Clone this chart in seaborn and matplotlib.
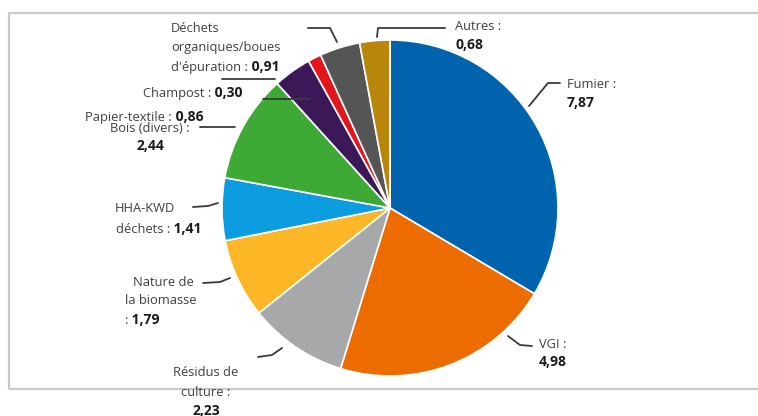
import matplotlib
matplotlib.use("Agg")
import matplotlib.pyplot as plt
from matplotlib.patches import Rectangle
from matplotlib.lines import Line2D
import seaborn as sns

# data (clockwise from 12 o'clock)
categories = ["Fumier", "VGI", "Résidus de culture", "Nature de la biomasse",
              "HHA-KWD déchets", "Bois (divers)", "Papier-textile", "Champost",
              "Déchets organiques/boues d'épuration", "Autres"]
values = [7.87, 4.98, 2.23, 1.79, 1.41, 2.44, 0.86, 0.30, 0.91, 0.68]
value_labels = [f"{v:.2f}".replace(".", ",") for v in values]
colors = ["#0063AE", "#EC6C00", "#A6A8AA", "#FDB626", "#0B9DDF",
          "#3EAA36", "#3D1858", "#E4161C", "#555555", "#B8860B"]

# label layout in image pixels: name lines with (x, y) per line, alignment,
# and where the bold value goes ("below" = own line, "inline" = after last line)
label_layout = [
    (["Fumier :"], [(567, 85)], "left", "below"),
    (["VGI :"], [(539, 344)], "left", "below"),
    (["Résidus de", "culture :"], [(206, 373), (206, 393)], "center", "below"),
    (["Nature de", "la biomasse", ":"], [(133, 282), (125, 301), (125, 320)], "left", "inline"),
    (["HHA-KWD", "déchets :"], [(115, 208), (116, 229)], "left", "inline"),
    (["Bois (divers) :"], [(150, 128)], "center", "below"),
    (["Papier-textile :"], [(85, 117)], "left", "inline"),
    (["Champost :"], [(143, 93)], "left", "inline"),
    (["Déchets", "organiques/boues", "d'épuration :"],
     [(171, 28), (171, 48), (171, 67)], "left", "inline"),
    (["Autres :"], [(455, 27)], "left", "below"),
]
leaders = [
    [(529, 106), (548, 83), (560, 83)],
    [(508, 336), (520, 345), (532, 346)],
    [(258, 357), (272, 355), (282, 348)],
    [(203, 283), (220, 282), (230, 278)],
    [(193, 207), (208, 206), (218, 203)],
    [(200, 127), (235, 127)],
    [(222, 79), (275, 79)],
    [(263, 99), (310, 99)],
    [(308, 28), (330, 28), (337, 42)],
    [(377, 37), (378, 28), (445, 28)],
]

W, H = 758, 416
CX, CY, R = 390, 208, 168

sns.set_theme(style="white")
plt.rcParams["font.family"] = ["Open Sans", "DejaVu Sans"]

fig = plt.figure(figsize=(W / 100, H / 100), dpi=100)
ax = fig.add_axes([0, 0, 1, 1])
ax.pie(values, colors=colors, startangle=90, counterclock=False,
       wedgeprops=dict(edgecolor="white", linewidth=1.2))
ax.set_xlim(-CX / R, (W - CX) / R)
ax.set_ylim(-(H - CY) / R, CY / R)
ax.set_aspect("equal", adjustable="box")
ax.axis("off")


def fx(x, y):
    # image pixel -> figure fraction
    return x / W, 1 - y / H


# outer frame
fig.patches.append(Rectangle(fx(9, 389), (W + 5 - 9) / W, (389 - 13) / H,
                             transform=fig.transFigure, fill=False,
                             edgecolor="#C9C9C9", linewidth=1.6))

name_col = "#3F3F3F"
val_col = "#1A1A1A"
fs = 9.3
vfs = 10

for (lines, pos, ha, place), val, lead in zip(label_layout, value_labels, leaders):
    last = None
    for ln, (x, y) in zip(lines, pos):
        last = fig.text(*fx(x, y), ln, ha=ha, va="center",
                        fontsize=fs, color=name_col)
    if place == "below":
        x, y = pos[-1]
        fig.text(*fx(x, y + 18), val, ha=ha, va="center",
                 fontsize=vfs, fontweight="bold", color=val_col)
    else:
        ax.annotate(" " + val, xy=(1, 0.5), xycoords=last, ha="left", va="center",
                    fontsize=vfs, fontweight="bold", color=val_col)
    xs, ys = zip(*[fx(px, py) for px, py in lead])
    fig.add_artist(Line2D(xs, ys, transform=fig.transFigure, color="#3A3A3A",
                          linewidth=1.3))

fig.savefig("out.png", dpi=100)
